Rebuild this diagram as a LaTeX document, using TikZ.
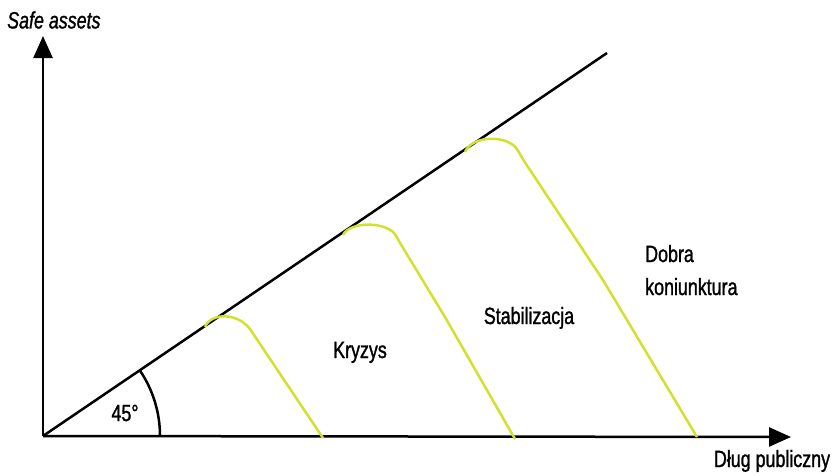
\documentclass[tikz,border=0pt]{standalone}
\usepackage{fontspec}
\setmainfont{Liberation Sans}[FakeStretch=0.76,FakeBold=1.2]
\usetikzlibrary{arrows.meta}
\definecolor{curvecol}{RGB}{210,224,46}
\tikzset{
  axis/.style={line width=2.5pt,-{Triangle[length=22pt,width=19pt]}},
  diag/.style={line width=2.5pt},
  cycle/.style={line width=2.5pt,curvecol},
  lbl/.style={inner sep=0pt,font=\fontsize{23.5}{28}\selectfont}
}
\begin{document}
\begin{tikzpicture}[x=1pt,y=-1pt]
\useasboundingbox (0,0) rectangle (837,475);
\coordinate (O) at (43,436);
\coordinate (Ytip) at (43,36);
\coordinate (Xtip) at (791,437);
\coordinate (Dend) at (607,53);
% axes
\draw[axis] (O) -- (Ytip);
\draw[axis] (O) -- (Xtip);
\draw[diag] (O) -- (Dend);
% angle arc
\draw[line width=2.5pt] (O) ++(0:117) arc[start angle=0, end angle=-34.2, radius=117];
% curves
\draw[cycle] (205,327) .. controls (211,312) and (240,312) .. (252,332) -- (323,438);
\draw[cycle,rounded corners=8pt] (343,235) .. controls (350,221) and (388,221) .. (400,243) -- (445,317) -- (515,439);
\draw[cycle,rounded corners=8pt] (465,152) .. controls (472,135) and (509,134) .. (522,158) -- (603,280) -- (697,437);
% labels
\node[lbl,anchor=west,font=\fontsize{23.5}{28}\selectfont\itshape] (ylab) at (7,20) {Safe assets};
\node[lbl,anchor=base] (xlab) at (772,467) {Dług publiczny};
\node[lbl] (ang) at (125,413) {45°};
\node[lbl,anchor=base] (kryzys) at (360,358) {Kryzys};
\node[lbl,anchor=base] (stab) at (529,324) {Stabilizacja};
\node[lbl,anchor=base west] (dobra) at (645,262) {Dobra};
\node[lbl,anchor=base west] (koniunk) at (645,295) {koniunktura};
\end{tikzpicture}
\end{document}
